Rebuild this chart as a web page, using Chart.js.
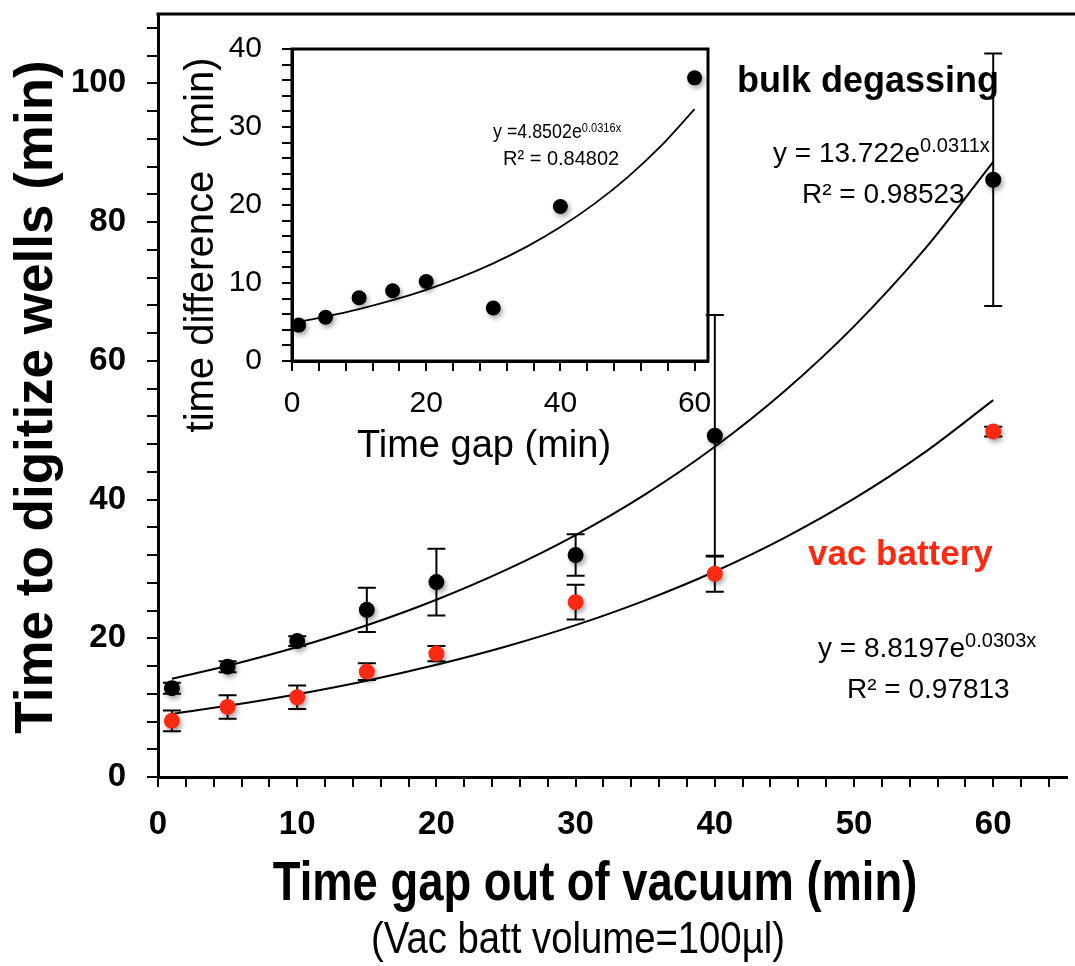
<!DOCTYPE html>
<html>
<head>
<meta charset="utf-8">
<script src="https://cdn.jsdelivr.net/npm/chart.js@4.4.1/dist/chart.umd.min.js"></script>
<style>
    html, body { margin: 0; padding: 0; background: #fff; overflow: hidden; }
    #wrap { position: relative; width: 1075px; height: 966px; }
    #chart-main { position: absolute; left: 0; top: 0; }
    #chart-inset { position: absolute; left: 165px; top: 25px; }
</style>
</head>
<body>
<div id="wrap">
    <canvas id="chart-main" width="1075" height="966"></canvas>
    <canvas id="chart-inset" width="560" height="450"></canvas>
</div>
<script>
// Main chart: time to digitize wells vs time out of vacuum
const gapMinutes = [1, 5, 10, 15, 20, 30, 40, 60];
const bulkTime = [12.8, 15.9, 19.6, 24.1, 28.1, 32.0, 49.2, 86.1];
const bulkErr = [0.8, 0.8, 0.7, 3.2, 4.8, 3.0, 17.4, 18.2];
const vacTime = [8.1, 10.1, 11.5, 15.2, 17.8, 25.2, 29.3, 49.8];
const vacErr = [1.5, 1.7, 1.7, 1.2, 1.1, 2.5, 2.6, 0.7];

// exponential trendlines as drawn in the figure
const fitMinutes = [1, 5, 10, 15, 20, 25, 30, 35, 40, 45, 50, 55, 60];
const bulkFit = [14.16, 16.03, 18.73, 21.88, 25.56, 29.86, 34.88, 40.75, 47.61, 55.62, 64.97, 75.91, 88.68];
const vacFit = [9.09, 10.26, 11.94, 13.89, 16.17, 18.81, 21.89, 25.47, 29.63, 34.48, 40.12, 46.69, 54.33];

// Inset: difference between the two series
const diffTime = [4.6, 5.6, 8.1, 9.0, 10.2, 6.8, 19.8, 36.3];
const diffFit = [5.01, 5.68, 6.65, 7.79, 9.13, 10.69, 12.52, 14.66, 17.17, 20.11, 23.55, 27.58, 32.30];

const RED = '#fc2a12';
const FONT = '"Liberation Sans", Arial, sans-serif';

const toXY = (xs, ys) => xs.map((x, i) => ({ x: x, y: ys[i] }));

// squeeze < 1 gives the condensed look of the original lettering
function text(ctx, str, x, y, font, color, align, squeeze) {
    const k = squeeze || 1;
    ctx.save();
    ctx.translate(x, y);
    ctx.scale(k, 1);
    ctx.font = font;
    ctx.fillStyle = color || '#000';
    ctx.textAlign = align || 'left';
    ctx.textBaseline = 'alphabetic';
    ctx.fillText(str, 0, 0);
    ctx.restore();
}

// "y = a e^bx" with a raised exponent
function powerText(ctx, base, sup, x, y, font, supFont, rise, squeeze) {
    const k = squeeze || 1;
    text(ctx, base, x, y, font, '#000', 'left', k);
    ctx.font = font;
    const w = ctx.measureText(base).width * k;
    text(ctx, sup, x + w, y - rise, supFont, '#000', 'left', k);
}

function rotatedText(ctx, str, x, y, font) {
    ctx.save();
    ctx.translate(x, y);
    ctx.rotate(-Math.PI / 2);
    text(ctx, str, 0, 0, font, '#000', 'center');
    ctx.restore();
}

function errorBars(chart, xs, ys, errs, cap) {
    const { ctx, scales } = chart;
    ctx.save();
    ctx.strokeStyle = '#000';
    ctx.lineWidth = 2;
    xs.forEach((xv, i) => {
        const px = scales.x.getPixelForValue(xv);
        const top = scales.y.getPixelForValue(ys[i] + errs[i]);
        const bot = scales.y.getPixelForValue(ys[i] - errs[i]);
        ctx.beginPath();
        ctx.moveTo(px, top); ctx.lineTo(px, bot);
        ctx.moveTo(px - cap, top); ctx.lineTo(px + cap, top);
        ctx.moveTo(px - cap, bot); ctx.lineTo(px + cap, bot);
        ctx.stroke();
    });
    ctx.restore();
}

// soft drop shadow under the markers
const markerShadow = {
    id: 'markerShadow',
    beforeDatasetDraw(chart, args) {
        if (!args.meta._dataset.shadow) return;
        const ctx = chart.ctx;
        ctx.save();
        ctx.shadowColor = 'rgba(0,0,0,0.35)';
        ctx.shadowBlur = 5;
        ctx.shadowOffsetX = 2;
        ctx.shadowOffsetY = 3;
    },
    afterDatasetDraw(chart, args) {
        if (args.meta._dataset.shadow) chart.ctx.restore();
    },
};

function axisStyle(tickLen, labelFont, padding, every, step, min, max) {
    return {
        type: 'linear',
        min: min,
        max: max,
        border: { display: true, color: '#000', width: 3 },
        grid: {
            display: true,
            drawOnChartArea: false,
            drawTicks: true,
            tickLength: tickLen,
            lineWidth: 2,
            color: '#000',
        },
        ticks: {
            stepSize: step,
            autoSkip: false,
            maxRotation: 0,
            includeBounds: false,
            color: '#000',
            font: labelFont,
            padding: padding,
            callback: v => (Math.abs(v % every) < 1e-6 ? String(v) : ''),
        },
    };
}

const mainDecor = {
    id: 'mainDecor',
    beforeDatasetsDraw(chart) {
        errorBars(chart, gapMinutes, bulkTime, bulkErr, 9);
        errorBars(chart, gapMinutes, vacTime, vacErr, 9);
    },
    afterDraw(chart) {
        const ctx = chart.ctx;
        const area = chart.chartArea;

        // top frame line
        ctx.save();
        ctx.strokeStyle = '#000';
        ctx.lineWidth = 3;
        ctx.beginPath();
        ctx.moveTo(area.left - 1.5, area.top);
        ctx.lineTo(chart.width, area.top);
        ctx.stroke();
        ctx.restore();

        text(ctx, 'bulk degassing', 737, 92, 'bold 36px ' + FONT);
        powerText(ctx, 'y = 13.722e', '0.0311x', 773, 162, '28px ' + FONT, '20px ' + FONT, 10);
        text(ctx, 'R\u00B2 = 0.98523', 802, 203, '28px ' + FONT);

        text(ctx, 'vac battery', 808, 565, 'bold 35px ' + FONT, RED);
        powerText(ctx, 'y = 8.8197e', '0.0303x', 818, 657, '28px ' + FONT, '20px ' + FONT, 10);
        text(ctx, 'R\u00B2 = 0.97813', 847, 698, '28px ' + FONT);

        text(ctx, 'Time gap out of vacuum (min)', 595, 900, 'bold 55px ' + FONT, '#000', 'center', 0.825);
        text(ctx, '(Vac batt volume=100\u00B5l)', 578, 953, '44px ' + FONT, '#000', 'center', 0.87);
        rotatedText(ctx, 'Time to digitize wells (min)', 52, 397, 'bold 53px ' + FONT);
    },
};

const mainX = axisStyle(10, { family: FONT, size: 33, weight: 'bold' }, 18, 10, 2, 0, 65.3);
mainX.afterFit = s => { s.height = 189; s.paddingLeft = 0; s.paddingRight = 0; };
const mainY = axisStyle(11, { family: FONT, size: 33, weight: 'bold' }, 21, 20, 4, 0, 110);
mainY.afterFit = s => { s.width = 158; s.paddingTop = 0; s.paddingBottom = 0; };

new Chart(document.getElementById('chart-main'), {
    type: 'scatter',
    data: {
        datasets: [
            {
                label: 'bulk degassing',
                data: toXY(gapMinutes, bulkTime),
                backgroundColor: '#000',
                borderWidth: 0,
                pointRadius: 8,
                shadow: true,
            },
            {
                label: 'vac battery',
                data: toXY(gapMinutes, vacTime),
                backgroundColor: RED,
                borderWidth: 0,
                pointRadius: 8,
                shadow: true,
            },
            {
                label: 'bulk fit',
                data: toXY(fitMinutes, bulkFit),
                showLine: true,
                borderColor: '#000',
                borderWidth: 2,
                pointRadius: 0,
                cubicInterpolationMode: 'monotone',
            },
            {
                label: 'vac fit',
                data: toXY(fitMinutes, vacFit),
                showLine: true,
                borderColor: '#000',
                borderWidth: 2,
                pointRadius: 0,
                cubicInterpolationMode: 'monotone',
            },
        ],
    },
    options: {
        responsive: false,
        animation: false,
        devicePixelRatio: 1,
        events: [],
        layout: { padding: { top: 14, right: 0, left: 0, bottom: 0 } },
        plugins: { legend: { display: false }, tooltip: { enabled: false } },
        scales: { x: mainX, y: mainY },
    },
    plugins: [markerShadow, mainDecor],
});

const insetDecor = {
    id: 'insetDecor',
    afterDraw(chart) {
        const ctx = chart.ctx;
        const a = chart.chartArea;
        ctx.save();
        ctx.strokeStyle = '#000';
        ctx.lineWidth = 3;
        ctx.strokeRect(a.left, a.top, a.right - a.left, a.bottom - a.top);
        ctx.restore();

        powerText(ctx, 'y =4.8502e', '0.0316x', 328, 113, '21px ' + FONT, '13px ' + FONT, 6, 0.85);
        text(ctx, 'R\u00B2 = 0.84802', 338, 140, '20px ' + FONT);

        text(ctx, 'Time gap (min)', 319, 432, '38px ' + FONT, '#000', 'center');
        rotatedText(ctx, 'time difference  (min)', 48, 220, '40px ' + FONT);
    },
};

const insetX = axisStyle(10, { family: FONT, size: 30 }, 15, 20, 4, 0, 62);
insetX.afterFit = s => { s.height = 114; s.paddingLeft = 0; s.paddingRight = 0; };
const insetY = axisStyle(10, { family: FONT, size: 30 }, 20, 10, 2, 0, 40);
insetY.afterFit = s => { s.width = 127; s.paddingTop = 0; s.paddingBottom = 0; };

new Chart(document.getElementById('chart-inset'), {
    type: 'scatter',
    data: {
        datasets: [
            {
                label: 'time difference',
                data: toXY(gapMinutes, diffTime),
                backgroundColor: '#000',
                borderWidth: 0,
                pointRadius: 7.5,
                shadow: true,
            },
            {
                label: 'difference fit',
                data: toXY(fitMinutes, diffFit),
                showLine: true,
                borderColor: '#000',
                borderWidth: 1.8,
                pointRadius: 0,
                cubicInterpolationMode: 'monotone',
            },
        ],
    },
    options: {
        responsive: false,
        animation: false,
        devicePixelRatio: 1,
        events: [],
        layout: { padding: { top: 24, right: 17, left: 0, bottom: 0 } },
        plugins: { legend: { display: false }, tooltip: { enabled: false } },
        scales: { x: insetX, y: insetY },
    },
    plugins: [markerShadow, insetDecor],
});
</script>
</body>
</html>
